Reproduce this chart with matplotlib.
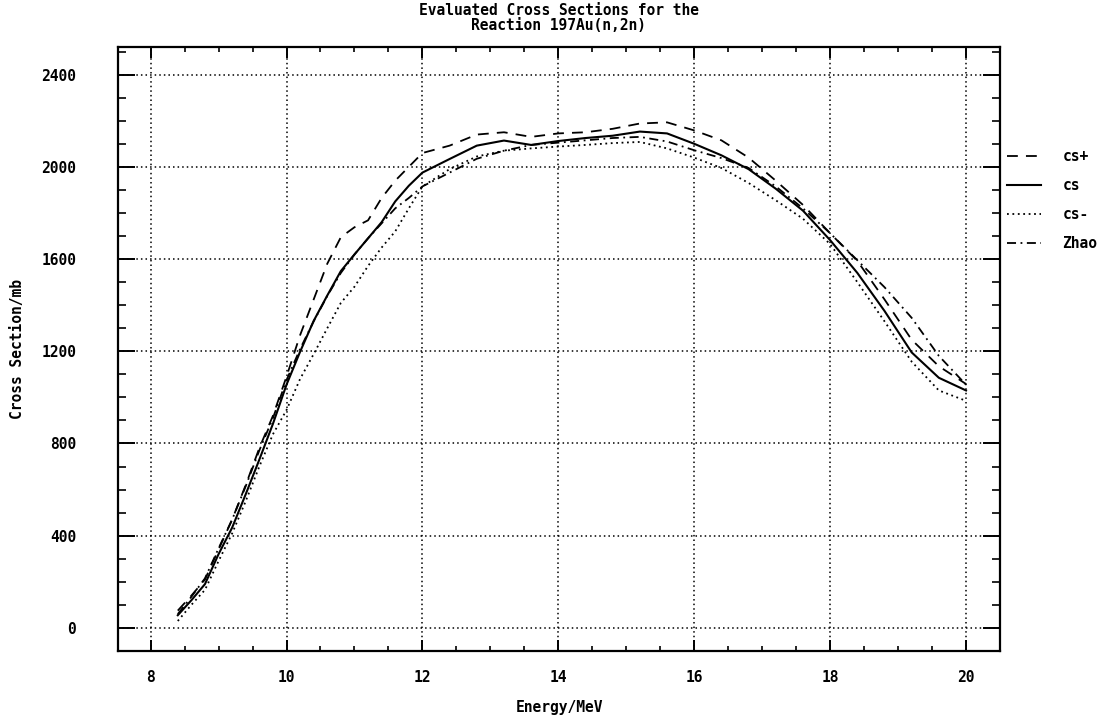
import matplotlib
matplotlib.use("Agg")
import matplotlib.pyplot as plt
import numpy as np

plt.rcParams['font.family'] = ['DejaVu Sans Mono']
plt.rcParams['font.weight'] = 'bold'

# incident energy (MeV)
energy = [8.4, 8.6, 8.8, 9.0, 9.2, 9.4, 9.6, 9.8, 10.0, 10.2, 10.4, 10.6, 10.8,
          11.0, 11.2, 11.4, 11.6, 11.8, 12.0, 12.4, 12.8, 13.2, 13.6, 14.0,
          14.4, 14.8, 15.2, 15.6, 16.0, 16.4, 16.8, 17.2, 17.6, 18.0, 18.4,
          18.8, 19.2, 19.6, 20.0]

# cross sections (mb)
cs_plus = [75, 140, 210, 340, 470, 620, 780, 920, 1090, 1270, 1425, 1580, 1695,
           1738, 1768, 1865, 1940, 2000, 2060, 2092, 2140, 2150, 2130, 2145,
           2150, 2165, 2188, 2193, 2158, 2115, 2040, 1940, 1835, 1712, 1592,
           1425, 1250, 1135, 1058]
cs = [55, 120, 190, 320, 435, 580, 730, 885, 1055, 1198, 1332, 1442, 1548,
      1620, 1690, 1760, 1850, 1918, 1975, 2034, 2092, 2114, 2095, 2112,
      2125, 2135, 2153, 2145, 2100, 2050, 1990, 1905, 1810, 1682, 1540,
      1375, 1195, 1085, 1030]
cs_minus = [30, 100, 165, 290, 410, 550, 700, 840, 945, 1080, 1188, 1300, 1410,
            1480, 1570, 1650, 1720, 1820, 1915, 1990, 2045, 2070, 2080, 2088,
            2095, 2103, 2108, 2080, 2040, 1995, 1930, 1855, 1775, 1665, 1500,
            1330, 1155, 1030, 985]
zhao = [60, 135, 215, 345, 470, 615, 770, 910, 1075, 1210, 1330, 1440, 1540,
        1620, 1690, 1755, 1820, 1865, 1915, 1975, 2035, 2070, 2095, 2105,
        2115, 2125, 2130, 2110, 2072, 2038, 1995, 1915, 1820, 1712, 1595,
        1478, 1345, 1180, 1055]

fig = plt.figure(figsize=(11.11, 7.17), dpi=100)
ax = fig.add_axes([0.1062, 0.0921, 0.7939, 0.8424])

ax.plot(energy, cs_plus, color='black', lw=1.3, ls=(0, (6, 4.5)), label='cs+')
ax.plot(energy, cs, color='black', lw=1.5, ls='-', label='cs')
ax.plot(energy, cs_minus, color='black', lw=1.3, ls=(0, (1, 2)), label='cs-')
ax.plot(energy, zhao, color='black', lw=1.3, ls=(0, (5, 2.5, 1, 2.5)), label='Zhao')

ax.set_xlim(7.52, 20.49)
ax.set_ylim(-95, 2520)
ax.set_xticks(np.arange(8, 21, 2))
ax.set_xticks(np.arange(8, 20.6, 0.5), minor=True)
ax.set_yticks(np.arange(0, 2401, 400))
ax.set_yticks(np.arange(-100, 2501, 100), minor=True)

ax.grid(True, which='major', color='black', ls=(0, (1, 2)), lw=1.1)
for s in ax.spines.values():
    s.set_linewidth(1.6)

ax.tick_params(axis='x', which='major', direction='in', length=8, width=1.4,
               top=True, bottom=True, labelsize=10.5, pad=14)
ax.tick_params(axis='x', which='minor', direction='in', length=3.6, width=1.2,
               top=True, bottom=True)
ax.tick_params(axis='y', which='major', direction='in', length=12, width=1.4,
               left=True, right=True, labelsize=10.5, pad=30)
ax.tick_params(axis='y', which='minor', direction='in', length=5.8, width=1.2,
               left=True, right=True)

fig.text(0.503, 0.985, 'Evaluated Cross Sections for the', ha='center', va='center', fontsize=10.5)
fig.text(0.503, 0.964, 'Reaction 197Au(n,2n)', ha='center', va='center', fontsize=10.5)
fig.text(0.504, 0.013, 'Energy/MeV', ha='center', va='center', fontsize=10.5)
fig.text(0.016, 0.513, 'Cross Section/mb', ha='center', va='center', fontsize=10.5, rotation=90)

ax.legend(loc='upper left', bbox_to_anchor=(1.008, 0.831), frameon=False,
          borderaxespad=0, borderpad=0, handlelength=2.3, handletextpad=1.5,
          labelspacing=0.97, fontsize=10.5)

fig.savefig('out.png', dpi=100)
